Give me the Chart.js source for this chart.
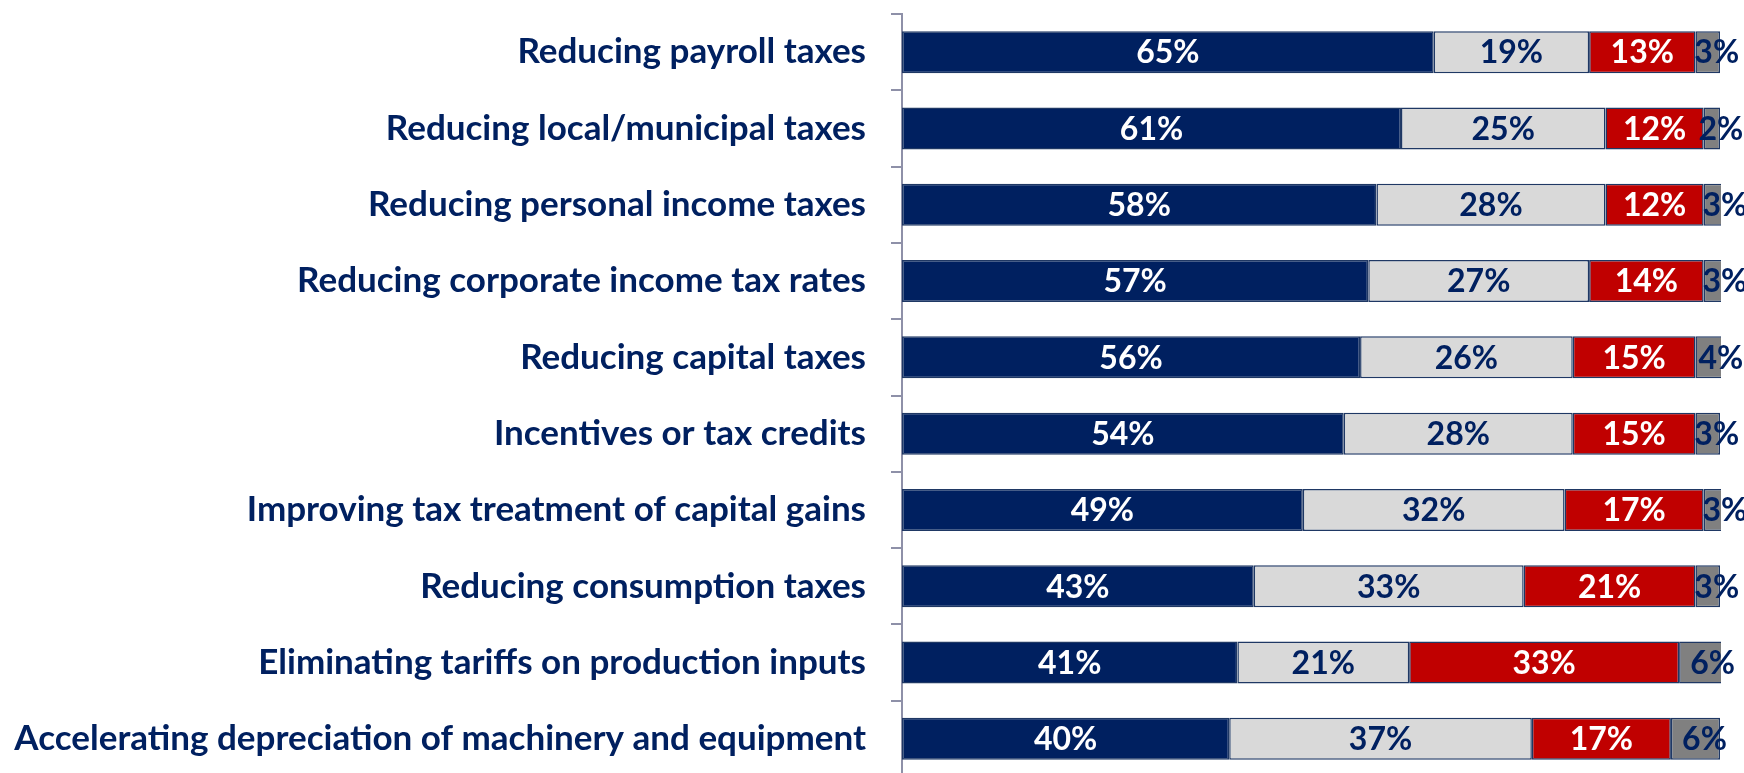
<!DOCTYPE html>
<html>
<head>
<meta charset="utf-8">
<script src="https://cdn.jsdelivr.net/npm/chart.js@4"></script>
<style>
  html, body { margin: 0; padding: 0; background: #fff; overflow: hidden; }
  #wrap { width: 1744px; height: 773px; overflow: hidden; }
  canvas { display: block; }
</style>
</head>
<body>
<div id="wrap">
  <canvas id="taxChart" width="1744" height="800"></canvas>
</div>
<script>
const categories = [
  'Reducing payroll taxes',
  'Reducing local/municipal taxes',
  'Reducing personal income taxes',
  'Reducing corporate income tax rates',
  'Reducing capital taxes',
  'Incentives or tax credits',
  'Improving tax treatment of capital gains',
  'Reducing consumption taxes',
  'Eliminating tariffs on production inputs',
  'Accelerating depreciation of machinery and equipment'
];

const positive = [65, 61, 58, 57, 56, 54, 49, 43, 41, 40];
const neutral = [19, 25, 28, 27, 26, 28, 32, 33, 21, 37];
const negative = [13, 12, 12, 14, 15, 15, 17, 21, 33, 17];
const unsure = [3, 2, 3, 3, 4, 3, 3, 3, 6, 6];

const NAVY = '#002060';
const FONT = 'Lato, "Open Sans", sans-serif';

// fill, label colour
const SERIES = [
  { data: positive, fill: NAVY, text: '#ffffff' },
  { data: neutral, fill: '#d9d9d9', text: NAVY },
  { data: negative, fill: '#c00000', text: '#ffffff' },
  { data: unsure, fill: '#808080', text: NAVY, shift: 9 }
];

// percent labels in the middle of every segment
const segmentLabels = {
  id: 'segmentLabels',
  afterDatasetsDraw(chart) {
    const ctx = chart.ctx;
    ctx.save();
    ctx.font = 'bold 32px ' + FONT;
    ctx.textAlign = 'center';
    ctx.textBaseline = 'middle';
    chart.data.datasets.forEach((ds, i) => {
      const meta = chart.getDatasetMeta(i);
      ctx.fillStyle = SERIES[i].text;
      meta.data.forEach((bar, j) => {
        const cx = (bar.x + bar.base) / 2 + (SERIES[i].shift || 0);
        ctx.fillText(ds.data[j] + '%', cx, bar.y + 1);
      });
    });
    ctx.restore();
  }
};

new Chart(document.getElementById('taxChart'), {
  type: 'bar',
  data: {
    labels: categories,
    datasets: SERIES.map(s => ({
      data: s.data,
      backgroundColor: s.fill,
      borderColor: '#1f3864',
      borderWidth: 1.5,
      borderSkipped: false,
      barPercentage: 0.55,
      categoryPercentage: 1,
      clip: 1
    }))
  },
  options: {
    indexAxis: 'y',
    responsive: false,
    animation: false,
    layout: { padding: { top: 14, right: 24, bottom: 23, left: 0 } },
    plugins: {
      legend: { display: false },
      tooltip: { enabled: false }
    },
    scales: {
      x: {
        stacked: true,
        min: 0,
        max: 100,
        display: false
      },
      y: {
        stacked: true,
        afterFit(scale) {
          scale.width = 902;
          scale.paddingTop = 0;
          scale.paddingBottom = 0;
        },
        border: { display: true, color: '#8e90a8', width: 2 },
        grid: {
          offset: true,
          drawOnChartArea: false,
          drawTicks: true,
          tickLength: 11,
          color: '#8e90a8',
          lineWidth: 2
        },
        ticks: {
          padding: 25,
          color: NAVY,
          font: { family: FONT, size: 35, weight: 'bold' }
        }
      }
    }
  },
  plugins: [segmentLabels]
});
</script>
</body>
</html>
